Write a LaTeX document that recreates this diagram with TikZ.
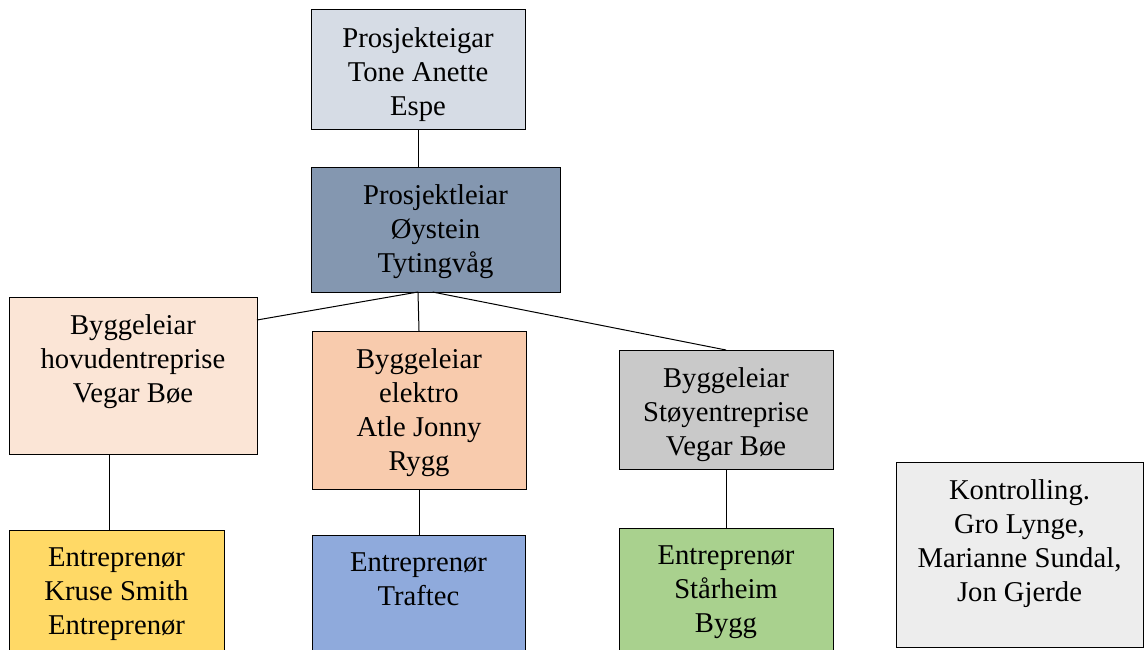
\documentclass[tikz,border=0pt]{standalone}
\usepackage{fontspec}
\setmainfont{Liberation Serif}
\usetikzlibrary{calc}

\definecolor{eigarfill}{HTML}{D6DCE5}
\definecolor{leiarfill}{HTML}{8497B0}
\definecolor{hovudfill}{HTML}{FBE5D6}
\definecolor{elektrofill}{HTML}{F8CBAD}
\definecolor{stoyfill}{HTML}{C9C9C9}
\definecolor{krusefill}{HTML}{FFD966}
\definecolor{traftecfill}{HTML}{8FAADC}
\definecolor{starheimfill}{HTML}{A9D18E}
\definecolor{kontrollfill}{HTML}{EDEDED}

\tikzset{every picture/.style={line width=0.75pt}}
\tikzset{
  orgbox/.style={draw=black, rectangle, anchor=north west, inner sep=0pt, outer sep=0pt},
  orgtext/.style={anchor=north, align=center, inner sep=0pt, font=\fontsize{21.5}{25.5}\selectfont},
  orgline/.style={draw=black, line width=0.75pt}
}

\begin{document}
\begin{tikzpicture}[x=0.75pt,y=0.75pt,yscale=-1,xscale=1]
\useasboundingbox (0,0) rectangle (1144,649);

%Shape: Rectangle [eigar]
\node [orgbox, fill=eigarfill, minimum width=160.5pt, minimum height=90pt] (eigar) at (311,10) {};
%Shape: Rectangle [leiar]
\node [orgbox, fill=leiarfill, minimum width=186.75pt, minimum height=93.75pt] (leiar) at (311,167) {};
%Shape: Rectangle [hovud]
\node [orgbox, fill=hovudfill, minimum width=186pt, minimum height=117.75pt] (hovud) at (9,297) {};
%Shape: Rectangle [elektro]
\node [orgbox, fill=elektrofill, minimum width=160.5pt, minimum height=118.5pt] (elektro) at (312,331) {};
%Shape: Rectangle [stoy]
\node [orgbox, fill=stoyfill, minimum width=160.5pt, minimum height=89.25pt] (stoy) at (619,350) {};
%Shape: Rectangle [kruse]
\node [orgbox, fill=krusefill, minimum width=161.25pt, minimum height=97.5pt] (kruse) at (9,530) {};
%Shape: Rectangle [traftec]
\node [orgbox, fill=traftecfill, minimum width=159.75pt, minimum height=93.75pt] (traftec) at (312,535) {};
%Shape: Rectangle [starheim]
\node [orgbox, fill=starheimfill, minimum width=160.5pt, minimum height=97.5pt] (starheim) at (619,528) {};
%Shape: Rectangle [kontroll]
\node [orgbox, fill=kontrollfill, minimum width=185.25pt, minimum height=138.75pt] (kontroll) at (896,462) {};

%Straight Lines
\draw [orgline] (eigar.south) -- (eigar.south |- leiar.north) ;
\draw [orgline] (leiar.south -| eigar.south) -- (hovud.east |- 0,320) ;
\draw [orgline] (leiar.south -| eigar.south) -- (elektro.north) ;
\draw [orgline] ($(leiar.south)+(-3,0)$) -- (stoy.north) ;
\draw [orgline] ($(kruse.north)+(-7,0)$) -- ($(kruse.north |- hovud.south)+(-7,0)$) ;
\draw [orgline] (elektro.south) -- (elektro.south |- traftec.north) ;
\draw [orgline] (stoy.south) -- (stoy.south |- starheim.north) ;

% Text Node
\node [orgtext] (eigar-t) at ($(eigar.north)+(0,17)$) {Prosjekteigar\\Tone Anette\\Espe};
% Text Node
\node [orgtext] (leiar-t) at ($(leiar.north)+(0,17)$) {Prosjektleiar\\Øystein\\Tytingvåg};
% Text Node
\node [orgtext] (hovud-t) at ($(hovud.north)+(0,17)$) {Byggeleiar\\hovudentreprise\\Vegar Bøe};
% Text Node
\node [orgtext] (elektro-t) at ($(elektro.north)+(0,17)$) {Byggeleiar\\elektro\\Atle Jonny\\Rygg};
% Text Node
\node [orgtext] (stoy-t) at ($(stoy.north)+(0,17)$) {Byggeleiar\\Støyentreprise\\Vegar Bøe};
% Text Node
\node [orgtext] (kruse-t) at ($(kruse.north)+(0,17)$) {Entreprenør\\Kruse Smith\\Entreprenør};
% Text Node
\node [orgtext] (traftec-t) at ($(traftec.north)+(0,17)$) {Entreprenør\\Traftec};
% Text Node
\node [orgtext] (starheim-t) at ($(starheim.north)+(0,17)$) {Entreprenør\\Stårheim\\Bygg};
% Text Node
\node [orgtext] (kontroll-t) at ($(kontroll.north)+(0,17)$) {Kontrolling.\\Gro Lynge,\\Marianne Sundal,\\Jon Gjerde};

\end{tikzpicture}
\end{document}
